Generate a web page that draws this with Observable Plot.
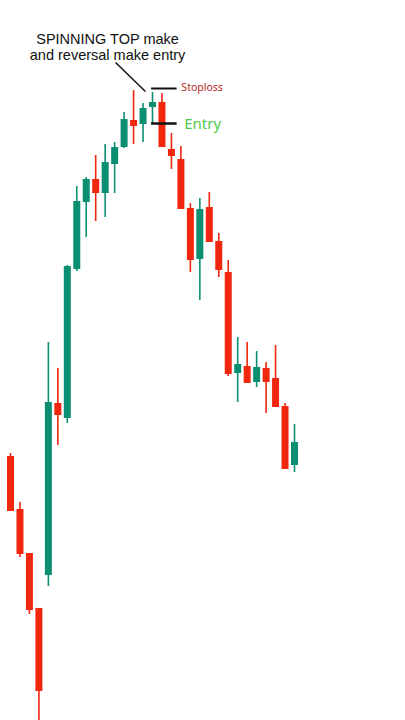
<!DOCTYPE html>
<html>
<head>
<meta charset="utf-8">
<script src="https://cdn.jsdelivr.net/npm/d3@7"></script>
<script src="https://cdn.jsdelivr.net/npm/@observablehq/plot@0.6"></script>
<style>
  html, body { margin: 0; padding: 0; background: #ffffff; }
  #chart svg { display: block; }
</style>
</head>
<body>
<div id="chart"></div>
<script>
// Candle values (price units, higher = up)
const opens  = [264, 211, 167, 112, 145, 317, 302, 451, 518, 541, 527, 556, 573, 600, 596, 613, 618, 571, 561, 512, 461, 513, 479, 448, 347, 354, 338, 352, 342, 314, 255];
const closes = [209, 166, 110,  29, 318, 305, 454, 519, 541, 527, 558, 573, 601, 594, 612, 618, 573, 564, 511, 460, 511, 478, 450, 346, 356, 337, 353, 338, 313, 251, 278];
const highs  = [267, 218, 167, 112, 378, 352, 455, 534, 543, 565, 576, 578, 608, 630, 617, 628, 627, 587, 574, 517, 522, 528, 487, 460, 383, 378, 369, 358, 375, 317, 296];
const lows   = [209, 163, 106,  -5, 134, 275, 297, 449, 483, 499, 503, 527, 572, 576, 578, 596, 573, 551, 511, 448, 420, 478, 443, 344, 318, 337, 333, 307, 313, 251, 248];

// Annotation levels
const stoplossLevel = 632;
const entryLevel = 597;
const levelStart = 14.9;
const levelEnd = 17.6;
const titleText = "SPINNING TOP make\nand reversal make entry";

const candles = opens.map((o, i) => ({
  i, open: o, close: closes[i], high: highs[i], low: lows[i],
  up: closes[i] >= o
}));

const GREEN = "#0b8f72";
const RED = "#f0260e";

const chart = Plot.plot({
  width: 405,
  height: 720,
  marginTop: 0, marginBottom: 0, marginLeft: 0, marginRight: 0,
  x: {domain: [0, 30], range: [10, 294], axis: null},
  y: {domain: [0, 720], axis: null},
  style: {background: "#ffffff"},
  marks: [
    // wicks
    Plot.ruleX(candles, {x: "i", y1: "low", y2: "high", stroke: d => d.up ? GREEN : RED, strokeWidth: 1.6}),
    // bodies
    Plot.ruleX(candles, {x: "i", y1: "open", y2: "close", stroke: d => d.up ? GREEN : RED, strokeWidth: 7, strokeLinecap: "butt"}),
    // stoploss / entry lines
    Plot.ruleY([stoplossLevel], {x1: levelStart, x2: levelEnd, stroke: "#111", strokeWidth: 2}),
    Plot.ruleY([entryLevel], {x1: levelStart, x2: levelEnd, stroke: "#111", strokeWidth: 2.5}),
    Plot.text(["Stoploss"], {x: levelEnd + 0.45, y: stoplossLevel + 1, text: d => d, textAnchor: "start", fill: "#b3261e", fontSize: 10.5, fontFamily: "Noto Sans"}),
    Plot.text(["Entry"], {x: levelEnd + 0.75, y: entryLevel - 1, text: d => d, textAnchor: "start", fill: "#4ccc4c", fontSize: 15, fontFamily: "Noto Sans"}),
    // pointer
    Plot.link([{x1: 11.1, y1: 658, x2: 14.25, y2: 629}], {x1: "x1", y1: "y1", x2: "x2", y2: "y2", stroke: "#111", strokeWidth: 1.5}),
    // title (two lines, one text)
    Plot.text([titleText], {x: 10.25, y: 673.5, text: d => d, fill: "#111", fontSize: 14.5, lineHeight: 1.13, fontFamily: "Liberation Sans"})
  ]
});
document.getElementById("chart").appendChild(chart);
</script>
</body>
</html>
